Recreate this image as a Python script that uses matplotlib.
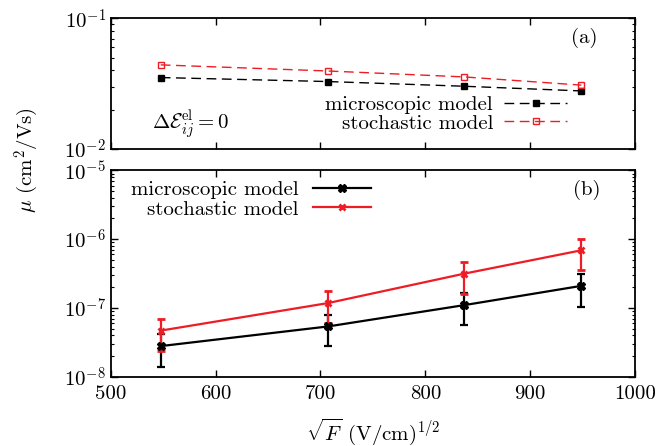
import numpy as np
import matplotlib
matplotlib.use('Agg')
from matplotlib import pyplot as plt
from matplotlib.lines import Line2D
from matplotlib.ticker import FixedLocator, FuncFormatter, LogLocator, NullFormatter

plt.rcParams['font.family'] = 'serif'
plt.rcParams['font.serif'] = ['cmr10', 'DejaVu Serif']
plt.rcParams['mathtext.fontset'] = 'cm'
plt.rcParams['axes.unicode_minus'] = False
plt.rcParams['font.size'] = 15

# sqrt(F) values
x = [547.7, 707.1, 836.7, 948.7]

# panel (a): Delta E = 0
mu_micro_a = [0.0352, 0.0328, 0.0302, 0.0278]
mu_stoch_a = [0.0440, 0.0395, 0.0356, 0.0308]

# panel (b)
mu_micro_b = [2.8e-8, 5.4e-8, 1.1e-7, 2.1e-7]
err_micro_b = [1.4e-8, 2.6e-8, 5.3e-8, 1.05e-7]
mu_stoch_b = [4.7e-8, 1.18e-7, 3.15e-7, 6.9e-7]
err_stoch_b = [2.3e-8, 0.58e-7, 1.55e-7, 3.3e-7]

red = '#ee1c25'
fs = 15

fig = plt.figure(figsize=(6.63, 4.46), dpi=100)
ax1 = fig.add_axes([0.167, 0.666, 0.791, 0.293])
ax2 = fig.add_axes([0.167, 0.155, 0.791, 0.463])

ax1.plot(x, mu_micro_a, color='black', lw=1, dashes=(7, 4), marker='s', ms=5,
         mfc='black', mec='black', label='microscopic model')
ax1.plot(x, mu_stoch_a, color=red, lw=1, dashes=(7, 4), marker='s', ms=5,
         mfc='none', mec=red, label='stochastic model')

ax2.errorbar(x, mu_micro_b, yerr=err_micro_b, color='black', lw=1.6, marker='X', ms=5.5,
             capsize=3, elinewidth=1.6, capthick=1.6)
ax2.errorbar(x, mu_stoch_b, yerr=err_stoch_b, color=red, lw=1.6, marker='x', ms=4.5, mew=2,
             capsize=3, elinewidth=1.6, capthick=1.6)
h_micro = Line2D([], [], color='black', lw=1.6, marker='X', ms=5.5)
h_stoch = Line2D([], [], color=red, lw=1.6, marker='x', ms=4.5, mew=2)

fmt = FuncFormatter(lambda v, _: r'$10^{%d}$' % int(round(np.log10(v))))
for ax in (ax1, ax2):
    ax.set_yscale('log')
    ax.set_xlim(500, 1000)
    ax.xaxis.set_major_locator(FixedLocator([500, 600, 700, 800, 900, 1000]))
    ax.yaxis.set_major_formatter(fmt)
    ax.yaxis.set_minor_locator(LogLocator(base=10, subs=np.arange(2, 10)))
    ax.yaxis.set_minor_formatter(NullFormatter())
    ax.tick_params(which='both', direction='in', top=True, right=True, labelsize=fs)
    ax.tick_params(which='major', length=5, width=1)
    ax.tick_params(which='minor', length=2.5, width=0.8)
    ax.tick_params(axis='x', pad=6)
    for s in ax.spines.values():
        s.set_linewidth(1.3)

ax1.set_ylim(0.01, 0.1)
ax1.yaxis.set_major_locator(FixedLocator([0.01, 0.1]))
ax1.tick_params(labelbottom=False)
ax2.set_ylim(1e-8, 1e-5)
ax2.yaxis.set_major_locator(FixedLocator([1e-8, 1e-7, 1e-6, 1e-5]))

ax1.legend(loc='upper right', bbox_to_anchor=(0.870, 0.41), frameon=False, markerfirst=False,
           handlelength=3.0, handletextpad=0.55, fontsize=fs, labelspacing=0.0,
           borderaxespad=0, borderpad=0)
ax2.legend([h_micro, h_stoch], ['microscopic model', 'stochastic model'],
           loc='upper left', bbox_to_anchor=(0.039, 0.951), frameon=False, markerfirst=False,
           handlelength=2.8, handletextpad=0.67, fontsize=fs, labelspacing=0.05,
           borderaxespad=0, borderpad=0)

ax1.text(0.903, 0.853, '(a)', transform=ax1.transAxes, fontsize=fs, ha='center', va='center')
ax2.text(0.907, 0.906, '(b)', transform=ax2.transAxes, fontsize=fs, ha='center', va='center')
ax1.text(0.079, 0.184, r'$\Delta\mathcal{E}_{ij}^{\rm el} = 0$', transform=ax1.transAxes,
         fontsize=fs, va='center')

fig.text(0.5625, 0.031, r'$\sqrt{F}$ (V/cm)$^{1/2}$', fontsize=fs, ha='center', va='center')
fig.text(0.041, 0.641, r'$\mu$ (cm$^2$/Vs)', rotation=90, fontsize=fs, ha='center', va='center')

fig.savefig('out.png', dpi=100)
